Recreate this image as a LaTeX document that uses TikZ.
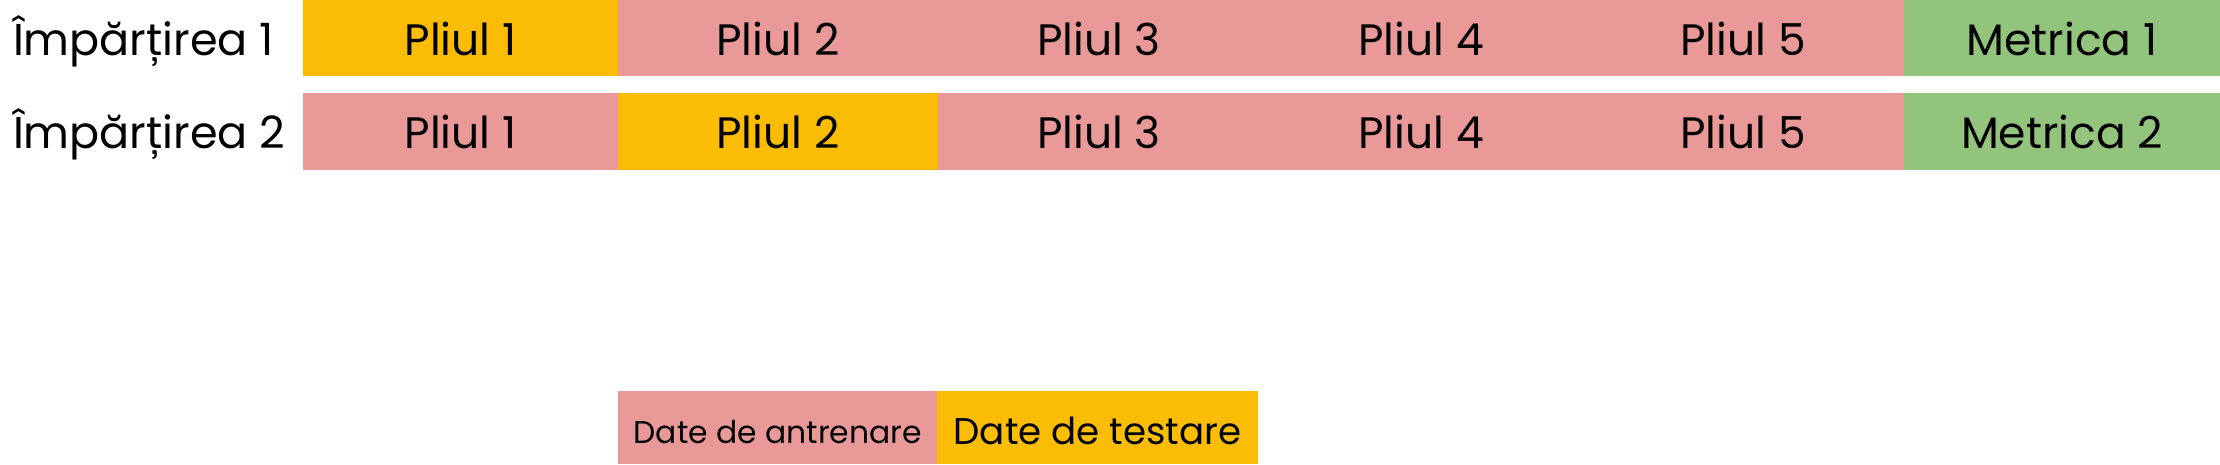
\documentclass[tikz,border=0pt]{standalone}
\usepackage{fontspec}
\setmainfont{Poppins}
\definecolor{cyel}{HTML}{FBBC04}
\definecolor{cpink}{HTML}{EA9999}
\definecolor{cgreen}{HTML}{93C47D}
\begin{document}
\begin{tikzpicture}[x=1pt,y=-1pt,
  cell/.style={inner sep=0pt,outer sep=0pt,draw=none,text height=34pt,text depth=0pt,font=\fontsize{44}{50}\selectfont},
  rowlabel/.style={inner sep=0pt,outer sep=0pt,anchor=base west,font=\fontsize{44.5}{50}\selectfont},
  legsmall/.style={inner sep=0pt,outer sep=0pt,text height=32pt,text depth=0pt,font=\fontsize{31.4}{37}\selectfont},
  legbig/.style={inner sep=0pt,outer sep=0pt,text height=34pt,text depth=0pt,font=\fontsize{37.2}{43}\selectfont}]
\useasboundingbox (0,0) rectangle (2220,464);
% row 1
\node[rowlabel] (l1) at (13,55) {Împărțirea 1};
\node[cell,fill=cyel,minimum width=315pt,minimum height=76pt] (a1) at (460.5,38) {Pliul 1};
\node[cell,fill=cpink,minimum width=320.5pt,minimum height=76pt] (a2) at (778,38) {Pliul 2};
\node[cell,fill=cpink,minimum width=322.5pt,minimum height=76pt] (a3) at (1099,38) {Pliul 3};
\node[cell,fill=cpink,minimum width=322.5pt,minimum height=76pt] (a4) at (1421,38) {Pliul 4};
\node[cell,fill=cpink,minimum width=322.5pt,minimum height=76pt] (a5) at (1743,38) {Pliul 5};
\node[cell,fill=cgreen,minimum width=316.5pt,minimum height=76pt] (a6) at (2062,38) {Metrica 1};
% row 2
\node[rowlabel] (l2) at (13,148.5) {Împărțirea 2};
\node[cell,fill=cpink,minimum width=315pt,minimum height=77pt] (b1) at (460.5,131.5) {Pliul 1};
\node[cell,fill=cyel,minimum width=320.5pt,minimum height=77pt] (b2) at (778,131.5) {Pliul 2};
\node[cell,fill=cpink,minimum width=322.5pt,minimum height=77pt] (b3) at (1099,131.5) {Pliul 3};
\node[cell,fill=cpink,minimum width=322.5pt,minimum height=77pt] (b4) at (1421,131.5) {Pliul 4};
\node[cell,fill=cpink,minimum width=322.5pt,minimum height=77pt] (b5) at (1743,131.5) {Pliul 5};
\node[cell,fill=cgreen,minimum width=316.5pt,minimum height=77pt] (b6) at (2062,131.5) {Metrica 2};
% legend
\node[legsmall,fill=cpink,minimum width=319.5pt,minimum height=73.5pt] (g1) at (777.75,427.5) {Date de antrenare};
\node[legbig,fill=cyel,minimum width=321pt,minimum height=73.5pt] (g2) at (1097.5,427.5) {Date de testare};
\end{tikzpicture}
\end{document}
